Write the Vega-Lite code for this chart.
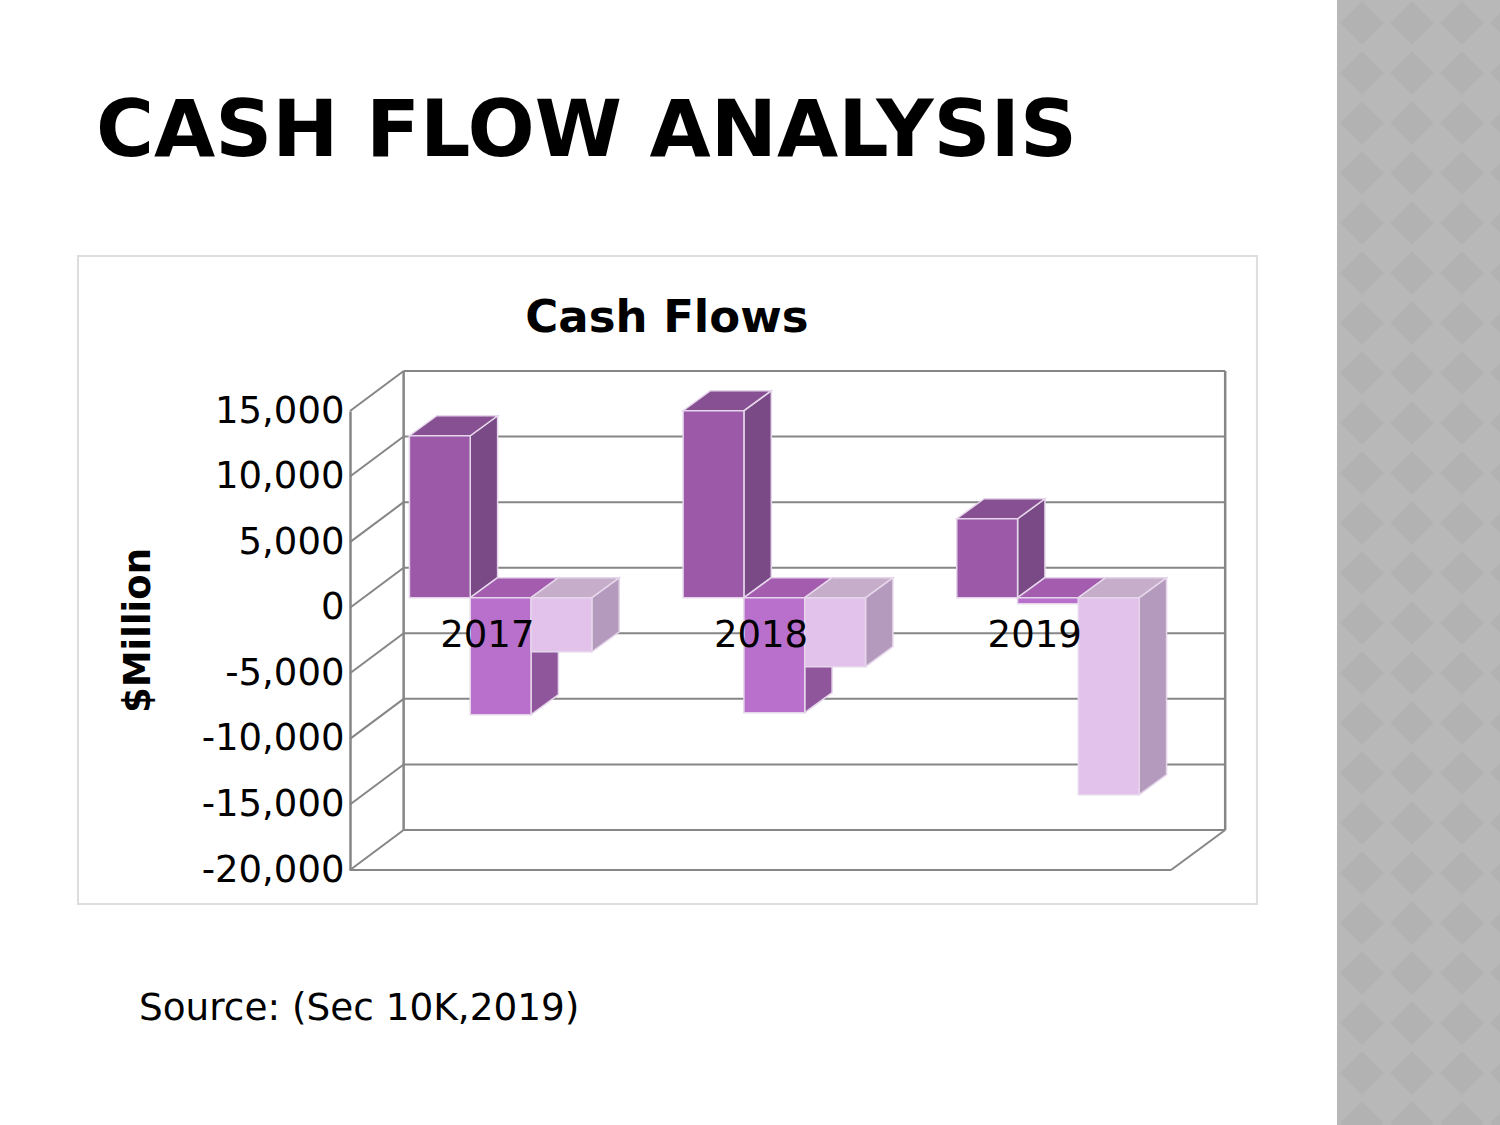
{
"$schema":"https://vega.github.io/schema/vega-lite/v6.json",
"width":821,"height":459,
"autosize":{"type":"none"},
"padding":{"left":350,"top":411,"right":329,"bottom":255},
"background":"white",
"view":{"stroke":null},
"config":{"font":"DejaVu Sans"},
"title":{"text":"CASH FLOW ANALYSIS","anchor":"start","frame":"group","dx":-254,"offset":-236,"baseline":"alphabetic","fontSize":79.1,"fontWeight":"bold","color":"#000000","font":"DejaVu Sans"},
"datasets":{
"flows":[
{"year":2017,"series":"Operating","value":12350},
{"year":2017,"series":"Investing","value":-8920},
{"year":2017,"series":"Financing","value":-4120},
{"year":2018,"series":"Operating","value":14260},
{"year":2018,"series":"Investing","value":-8770},
{"year":2018,"series":"Financing","value":-5260},
{"year":2019,"series":"Operating","value":6020},
{"year":2019,"series":"Investing","value":-460},
{"year":2019,"series":"Financing","value":-15020}
],
"ticks":[{"v":-20000},{"v":-15000},{"v":-10000},{"v":-5000},{"v":0},{"v":5000},{"v":10000},{"v":15000}],
"pattern":[{"col":0,"row":[0,1,2,3,4,5,6,7,8,9,10,11,12,13,14,15,16,17,18,19,20,21,22]},{"col":1,"row":[0,1,2,3,4,5,6,7,8,9,10,11,12,13,14,15,16,17,18,19,20,21,22]},{"col":2,"row":[0,1,2,3,4,5,6,7,8,9,10,11,12,13,14,15,16,17,18,19,20,21,22]},{"col":3,"row":[0,1,2,3,4,5,6,7,8,9,10,11,12,13,14,15,16,17,18,19,20,21,22]}]
},
"layer":[
{"data":{"values":[{}]},"mark":{"type":"rect","fill":"#B8B8B8"},
 "encoding":{"x":{"datum":2020.1065,"type":"quantitative","scale":{"domain":[2016.5,2019.5],"nice":false,"zero":false},"axis":{"title":null,"values":[2017,2018,2019],"format":"d","orient":"bottom","offset":-262,"domain":false,"ticks":false,"grid":false,"labelFontSize":37,"labelColor":"#000000","labelPadding":9,"zindex":1,"labelFont":"DejaVu Sans"}},
 "x2":{"datum":2020.71},
 "y":{"datum":46400,"type":"quantitative","scale":{"domain":[-20000,15000],"nice":false,"zero":false},"axis":{"title":"$Million","titleFontSize":37,"titleFontWeight":"bold","titleColor":"#000000","titleX":-212,"titleY":219,"titleAngle":270,"titleAlign":"center","titleBaseline":"middle","values":[-20000,-15000,-10000,-5000,0,5000,10000,15000],"labelExpr":"(datum.value<0?'-':'')+format(abs(datum.value),',.0f')","domain":true,"domainColor":"#868686","domainWidth":2.5,"ticks":false,"grid":false,"labelFontSize":37,"labelColor":"#000000","labelPadding":6,"zindex":1,"labelFont":"DejaVu Sans"}},
 "y2":{"datum":-39500}}},
{"data":{"name":"pattern"},"transform":[{"flatten":["row"]},{"calculate":"2020.198+0.1827*datum.col","as":"px"},{"calculate":"44586-3813*datum.row","as":"py"}],
 "mark":{"type":"point","shape":"diamond","filled":true,"fill":"#B2B2B2","opacity":1,"size":1900,"clip":false},
 "encoding":{"x":{"field":"px","type":"quantitative"},"y":{"field":"py","type":"quantitative"}}},
{"data":{"values":[{}]},"mark":{"type":"rect","fill":"#FFFFFF","stroke":"#DDDDDD","strokeWidth":2},
 "encoding":{"x":{"datum":2015.506,"type":"quantitative"},"x2":{"datum":2019.814},"y":{"datum":26819,"type":"quantitative"},"y2":{"datum":-22593}}},
{"data":{"name":"ticks"},"transform":[{"calculate":"datum.v+3050","as":"back"}],
 "mark":{"type":"rule","color":"#868686","strokeWidth":2},
 "encoding":{"x":{"datum":2016.696,"type":"quantitative"},"x2":{"datum":2019.698},"y":{"field":"back","type":"quantitative"}}},
{"data":{"name":"ticks"},"transform":[{"calculate":"datum.v+3050","as":"back"}],
 "mark":{"type":"rule","color":"#868686","strokeWidth":2},
 "encoding":{"x":{"datum":2016.5,"type":"quantitative"},"x2":{"datum":2016.696},"y":{"field":"v","type":"quantitative"},"y2":{"field":"back"}}},
{"data":{"values":[{}]},"mark":{"type":"rule","color":"#868686","strokeWidth":2.5},
 "encoding":{"x":{"datum":2016.696,"type":"quantitative"},"y":{"datum":-16950,"type":"quantitative"},"y2":{"datum":18050}}},
{"data":{"values":[{}]},"mark":{"type":"rule","color":"#868686","strokeWidth":2.5},
 "encoding":{"x":{"datum":2019.698,"type":"quantitative"},"y":{"datum":-16950,"type":"quantitative"},"y2":{"datum":18050}}},
{"data":{"values":[{}]},"mark":{"type":"rule","color":"#868686","strokeWidth":2},
 "encoding":{"x":{"datum":2016.5,"type":"quantitative"},"x2":{"datum":2019.5},"y":{"datum":-20000,"type":"quantitative"}}},
{"data":{"values":[{}]},"mark":{"type":"rule","color":"#868686","strokeWidth":2},
 "encoding":{"x":{"datum":2019.5,"type":"quantitative"},"x2":{"datum":2019.698},"y":{"datum":-20000,"type":"quantitative"},"y2":{"datum":-16950}}},
{"data":{"name":"flows"},"transform":[
 {"calculate":"indexof(['Operating','Investing','Financing'],datum.series)","as":"idx"},
 {"calculate":"datum.year-1/3+datum.idx*2/9+0.0505+2/9","as":"right"},
 {"calculate":"datum.series+' side'","as":"shade"},
 {"calculate":"datum.year+datum.series","as":"bar"},
 {"calculate":"[0,1]","as":"d"},{"flatten":["d"]},
 {"calculate":"datum.right+0.1*datum.d","as":"sx"},
 {"calculate":"datum.value+762.5+1525*datum.d","as":"sy"},
 {"calculate":"762.5+1525*datum.d","as":"sy2"}],
 "mark":{"type":"area","orient":"vertical","stroke":"#E6D6EB","strokeWidth":1.5},
 "encoding":{"x":{"field":"sx","type":"quantitative"},"y":{"field":"sy","type":"quantitative"},"y2":{"field":"sy2"},"detail":{"field":"bar"},
 "fill":{"field":"shade","type":"nominal","legend":null,"scale":{"domain":["Operating front","Operating side","Operating top","Investing front","Investing side","Investing top","Financing front","Financing side","Financing top"],"range":["#9B59A8","#7A4A87","#875092","#B96FCC","#8F569C","#A35CAE","#E2C2EA","#B49ABC","#C6AECB"]}}}},
{"data":{"name":"flows"},"transform":[
 {"calculate":"indexof(['Operating','Investing','Financing'],datum.series)","as":"idx"},
 {"calculate":"datum.year-1/3+datum.idx*2/9+0.0505","as":"left"},
 {"calculate":"datum.series+' top'","as":"shade"},
 {"calculate":"datum.year+datum.series","as":"bar"},
 {"calculate":"[0,1]","as":"d"},{"flatten":["d"]},
 {"calculate":"datum.left+0.1*datum.d","as":"tx"},
 {"calculate":"datum.left+2/9+0.1*datum.d","as":"tx2"},
 {"calculate":"max(datum.value,0)+762.5+1525*datum.d","as":"ty"}],
 "mark":{"type":"area","orient":"horizontal","stroke":"#E6D6EB","strokeWidth":1.5},
 "encoding":{"y":{"field":"ty","type":"quantitative"},"x":{"field":"tx","type":"quantitative"},"x2":{"field":"tx2"},"detail":{"field":"bar"},
 "fill":{"field":"shade","type":"nominal","legend":null}}},
{"data":{"name":"flows"},"transform":[
 {"calculate":"indexof(['Operating','Investing','Financing'],datum.series)","as":"idx"},
 {"calculate":"datum.year-1/3+datum.idx*2/9+0.0505","as":"left"},
 {"calculate":"datum.left+2/9","as":"right"},
 {"calculate":"datum.series+' front'","as":"shade"},
 {"calculate":"datum.value+762.5","as":"fy"},
 {"calculate":"762.5","as":"fy2"}],
 "mark":{"type":"rect","stroke":"#E6D6EB","strokeWidth":1.5},
 "encoding":{"x":{"field":"left","type":"quantitative"},"x2":{"field":"right"},"y":{"field":"fy","type":"quantitative"},"y2":{"field":"fy2"},
 "fill":{"field":"shade","type":"nominal","legend":null}}},
{"data":{"values":[{"t":"Cash Flows"}]},"mark":{"type":"text","fontSize":45,"fontWeight":"bold","color":"#000000","align":"center","baseline":"middle","font":"DejaVu Sans"},
 "encoding":{"text":{"field":"t"},"x":{"datum":2017.658,"type":"quantitative"},"y":{"datum":22076,"type":"quantitative"}}},
{"data":{"values":[{"t":"Source: (Sec 10K,2019)"}]},"mark":{"type":"text","fontSize":37.4,"color":"#000000","align":"left","baseline":"middle","font":"DejaVu Sans"},
 "encoding":{"text":{"field":"t"},"x":{"datum":2015.729,"type":"quantitative"},"y":{"datum":-30596,"type":"quantitative"}}}
]
}
